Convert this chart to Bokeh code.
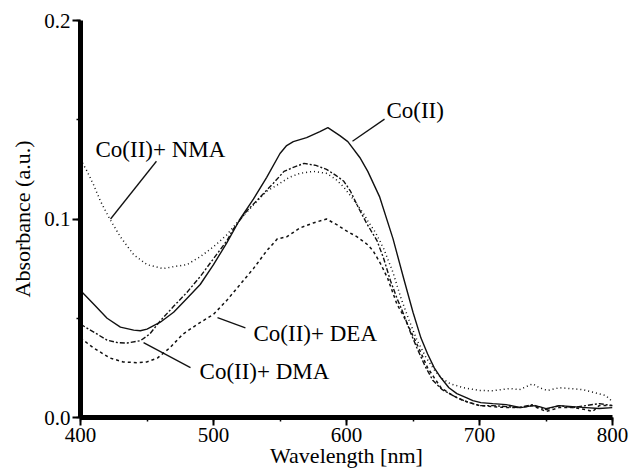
from bokeh.plotting import figure
from bokeh.models import Range1d, SingleIntervalTicker, PrintfTickFormatter, Label, ColumnDataSource
from bokeh.embed import file_html
from bokeh.resources import INLINE

# ---- data ----
co_x = [400, 410, 420, 430, 440, 445, 450, 460, 470, 480, 490, 500, 510, 520, 530, 540, 550, 555, 560, 570,
        580, 586, 595, 601, 610, 616, 625, 635, 643, 650, 656, 661, 666, 671, 677, 683, 690, 695, 701, 710,
        720, 731, 740, 745, 750, 760, 770, 780, 790, 800]
co_y = [0.064, 0.057, 0.050, 0.0455, 0.0440, 0.0437, 0.0445, 0.048, 0.053, 0.060, 0.067, 0.077, 0.088, 0.100,
        0.110, 0.121, 0.133, 0.137, 0.139, 0.141, 0.144, 0.146, 0.142, 0.139, 0.131, 0.124, 0.111, 0.090,
        0.070, 0.053, 0.040, 0.032, 0.025, 0.020, 0.015, 0.012, 0.010, 0.0085, 0.0075, 0.007, 0.0065, 0.005,
        0.006, 0.0055, 0.0045, 0.006, 0.0055, 0.005, 0.0045, 0.005]

dma_x = [400, 410, 420, 428, 435, 445, 452, 460, 470, 480, 490, 500, 510, 515, 525, 535, 545, 553, 560, 568,
         577, 585, 592, 598, 603, 608, 615, 623, 628, 633, 638, 643, 648, 653, 659, 665, 672, 683, 690, 700,
         710, 720, 730, 740, 750, 760, 770, 780, 790, 800]
dma_y = [0.047, 0.043, 0.039, 0.0377, 0.0375, 0.0387, 0.042, 0.0487, 0.056, 0.063, 0.071, 0.080, 0.089, 0.095,
         0.104, 0.111, 0.118, 0.124, 0.126, 0.128, 0.127, 0.125, 0.122, 0.119, 0.114, 0.107, 0.098, 0.089,
         0.080, 0.069, 0.060, 0.052, 0.043, 0.035, 0.026, 0.0186, 0.014, 0.010, 0.008, 0.006, 0.006, 0.0055,
         0.005, 0.0065, 0.004, 0.006, 0.005, 0.006, 0.007, 0.006]

dea_x = [400, 410, 422, 432, 443, 450, 458, 467, 477, 488, 500, 510, 520, 530, 540, 548, 555, 565, 575, 585,
         593, 600, 608, 616, 620, 626, 631, 638, 643, 648, 655, 661, 666, 671, 680, 688, 700, 710, 720, 730,
         740, 750, 760, 770, 780, 785, 790, 800]
dea_y = [0.040, 0.035, 0.030, 0.028, 0.0276, 0.028, 0.030, 0.035, 0.042, 0.047, 0.052, 0.059, 0.067, 0.075,
         0.084, 0.090, 0.091, 0.0955, 0.098, 0.100, 0.097, 0.094, 0.091, 0.087, 0.084, 0.077, 0.070, 0.057,
         0.051, 0.044, 0.034, 0.025, 0.020, 0.015, 0.011, 0.0085, 0.006, 0.0055, 0.005, 0.005, 0.006, 0.003,
         0.005, 0.005, 0.004, 0.003, 0.006, 0.006]

nma_x = [400, 405, 410, 415, 422, 430, 440, 450, 462, 470, 480, 490, 500, 510, 520, 530, 540, 550, 557, 565,
         575, 585, 592, 598, 605, 613, 616, 622, 628, 635, 641, 647, 653, 660, 666, 671, 678, 688, 700, 710,
         723, 730, 740, 745, 751, 760, 768, 778, 786, 795, 800]
nma_y = [0.130, 0.124, 0.117, 0.109, 0.100, 0.091, 0.082, 0.077, 0.075, 0.076, 0.077, 0.081, 0.086, 0.092,
         0.100, 0.107, 0.114, 0.118, 0.121, 0.123, 0.124, 0.123, 0.120, 0.116, 0.110, 0.1025, 0.099, 0.093,
         0.085, 0.073, 0.060, 0.049, 0.039, 0.030, 0.024, 0.020, 0.017, 0.015, 0.0136, 0.0135, 0.0146, 0.014,
         0.017, 0.015, 0.0136, 0.015, 0.0146, 0.014, 0.0126, 0.011, 0.008]

labels = ["Co(II)", "Co(II)+ NMA", "Co(II)+ DEA", "Co(II)+ DMA"]
label_x = [630.0, 411.3, 530.1, 489.5]
label_y = [0.1548, 0.1352, 0.0422, 0.0231]
lead_x0 = [604.5, 422.6, 503.0, 447.4]
lead_y0 = [0.1392, 0.1000, 0.0503, 0.0377]
lead_x1 = [628.6, 457.1, 524.0, 482.7]
lead_y1 = [0.1503, 0.1291, 0.0452, 0.0251]

x_title = "Wavelength [nm]"
y_title = "Absorbance (a.u.)"

FONT = "Liberation Serif"
INK = "#111111"

p = figure(width=634, height=472, output_backend="svg", toolbar_location=None,
           x_range=Range1d(400, 800), y_range=Range1d(0, 0.2),
           min_border_left=80, min_border_right=22, min_border_top=20, min_border_bottom=55)
p.outline_line_color = None
p.grid.visible = False
p.background_fill_color = "white"
p.border_fill_color = "white"

p.line(co_x, co_y, line_color=INK, line_width=1.4)
p.line(dma_x, dma_y, line_color=INK, line_width=1.4, line_dash="5 2 2 2")
p.line(dea_x, dea_y, line_color=INK, line_width=1.5, line_dash="3 3")
p.line(nma_x, nma_y, line_color=INK, line_width=1.5, line_dash="1 3")

src = ColumnDataSource(dict(x0=lead_x0, y0=lead_y0, x1=lead_x1, y1=lead_y1))
p.segment(x0="x0", y0="y0", x1="x1", y1="y1", source=src, line_color=INK, line_width=1.3)

for t, lx, ly in zip(labels, label_x, label_y):
    p.add_layout(Label(x=lx, y=ly, text=t, text_font=FONT, text_font_size="23px",
                       text_color="black", text_align="left", text_baseline="middle"))

p.xaxis.ticker = SingleIntervalTicker(interval=100, num_minor_ticks=2)
p.yaxis.ticker = SingleIntervalTicker(interval=0.1, num_minor_ticks=2)
p.yaxis.formatter = PrintfTickFormatter(format="%.1f")
p.xaxis.axis_label = x_title
p.yaxis.axis_label = y_title
p.axis.axis_line_width = 5
p.axis.axis_line_color = "black"
p.axis.major_tick_line_width = 2
p.axis.major_tick_line_color = "black"
p.axis.minor_tick_line_width = 1.5
p.axis.minor_tick_line_color = "black"
p.axis.major_tick_in = 0
p.axis.major_tick_out = 8
p.axis.minor_tick_in = 0
p.axis.minor_tick_out = 4
p.axis.major_label_text_font = FONT
p.axis.major_label_text_font_size = "21px"
p.axis.major_label_text_color = "black"
p.axis.major_label_standoff = 2
p.axis.axis_label_text_font = FONT
p.axis.axis_label_text_font_size = "22px"
p.axis.axis_label_text_font_style = "normal"
p.axis.axis_label_text_color = "black"
p.xaxis.axis_label_standoff = -2
p.yaxis.axis_label_standoff = 6

open("out.html", "w").write(file_html(p, INLINE))
